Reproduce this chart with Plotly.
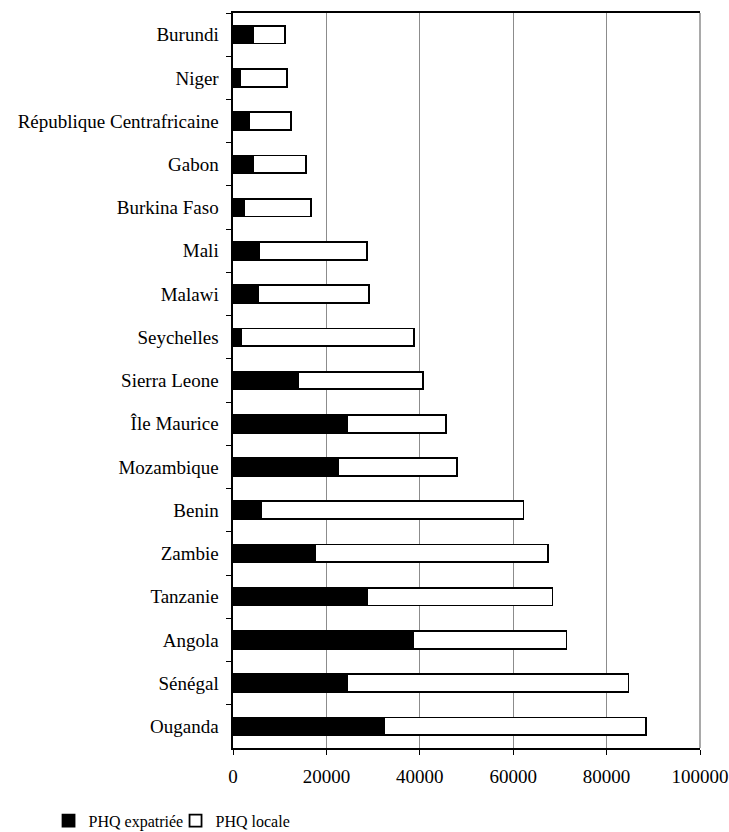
import plotly.graph_objects as go

countries = [
    "Burundi", "Niger", "République Centrafricaine", "Gabon", "Burkina Faso",
    "Mali", "Malawi", "Seychelles", "Sierra Leone", "Île Maurice",
    "Mozambique", "Benin", "Zambie", "Tanzanie", "Angola", "Sénégal", "Ouganda",
]
phq_expatriee = [
    4200, 1600, 3500, 4200, 2300,
    5600, 5300, 1800, 13900, 24400,
    22600, 6100, 17500, 28800, 38600, 24400, 32400,
]
phq_locale = [
    7000, 10000, 9000, 11500, 14400,
    23100, 23900, 36900, 26700, 21200,
    25300, 56100, 49900, 39600, 32800, 60300, 56000,
]
x_ticks = [0, 20000, 40000, 60000, 80000, 100000]

serif = "Liberation Serif"
axis_font = dict(family=serif, size=19, color="black")

fig = go.Figure()
fig.add_trace(go.Bar(
    y=countries, x=phq_expatriee, orientation="h", name="PHQ expatriée",
    marker=dict(color="black", line=dict(color="black", width=1.8)),
))
fig.add_trace(go.Bar(
    y=countries, x=phq_locale, orientation="h", name="PHQ locale",
    marker=dict(color="white", line=dict(color="black", width=1.8)),
))

fig.update_layout(
    barmode="stack",
    bargap=0.59,
    width=729, height=832,
    margin=dict(l=233, r=29, t=13, b=84, autoexpand=False),
    paper_bgcolor="white", plot_bgcolor="white",
    font=axis_font,
    showlegend=True,
    legend=dict(
        orientation="h", traceorder="normal",
        x=-0.395, y=-0.099, xanchor="left", yanchor="middle",
        font=dict(family=serif, size=16, color="black"),
        itemwidth=30, entrywidth=82, bgcolor="rgba(0,0,0,0)",
    ),
    xaxis=dict(
        range=[0, 100000], tickvals=x_ticks, tickformat="d",
        tickfont=axis_font,
        showgrid=True, gridcolor="#8c8c8c", gridwidth=1,
        showline=True, linecolor="black", linewidth=1.5, mirror=True,
        ticks="outside", ticklen=5, tickcolor="black", ticklabelstandoff=5,
        zeroline=False, fixedrange=True,
    ),
    yaxis=dict(
        autorange="reversed", categoryorder="array", categoryarray=countries,
        tickfont=axis_font,
        showline=True, linecolor="black", linewidth=1.5,
        ticks="outside", ticklen=5, tickcolor="black", tickson="boundaries",
        ticklabelstandoff=4,
        showgrid=False, zeroline=False, ticksuffix=" ",
    ),
    shapes=[dict(
        type="line", xref="paper", yref="paper", x0=1, x1=1, y0=0, y1=1,
        line=dict(color="#8c8c8c", width=1.5),
    )],
)

fig.write_html("out.html")
